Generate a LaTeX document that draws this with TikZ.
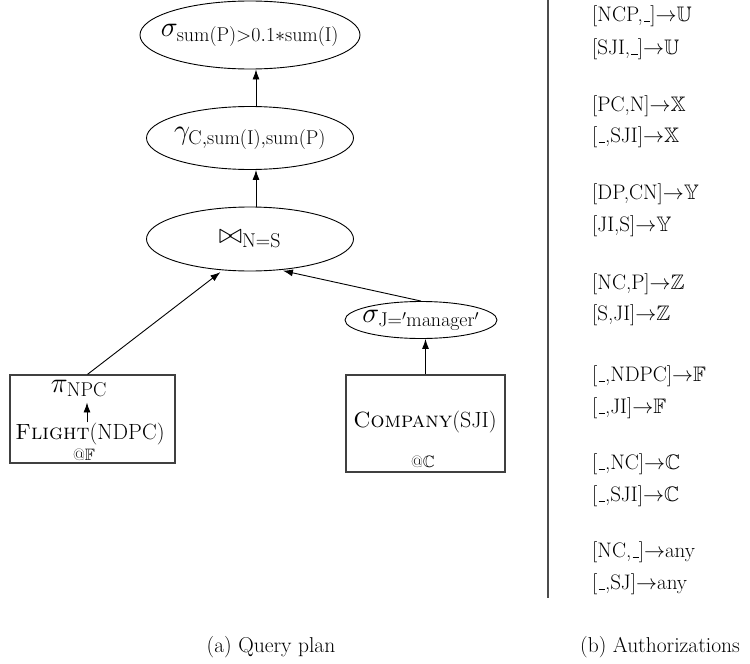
\RequirePackage{fix-cm}
\documentclass[tikz,border=0pt]{standalone}
\usepackage{amssymb}
\usetikzlibrary{shapes.geometric,arrows.meta}
% short underscore sitting on the baseline
\newcommand{\usc}{\leavevmode\kern.06em\vbox{\hrule width.3em}}
% tight arrow between a column pair and its holder
\newcommand{\giv}{$\mathord{\rightarrow}$}

\begin{document}
\begin{tikzpicture}[x=1pt,y=-1pt,
  op/.style={draw, ellipse, inner sep=0pt, line width=0.9pt, font=\fontsize{28.5}{32}\selectfont},
  src/.style={draw=black!75, line width=1.3pt, inner sep=0pt},
  mathlbl/.style={anchor=base, inner sep=0pt, font=\fontsize{28.5}{32}\selectfont},
  lbl/.style={anchor=base, inner sep=0pt, font=\fontsize{22}{26}\selectfont},
  site/.style={anchor=base, inner sep=0pt, font=\fontsize{16.5}{19}\selectfont},
  auth/.style={anchor=base west, inner sep=0pt, font=\fontsize{21}{25}\selectfont},
  captxt/.style={anchor=base, inner sep=0pt, font=\fontsize{21.5}{25}\selectfont},
  arr/.style={-{Latex[length=10pt,width=7pt]}, line width=0.9pt}]
\useasboundingbox (0,0) rectangle (750,664);

% ---- query plan: operators ----
\node[op, minimum width=220pt, minimum height=68pt] (sel) at (250,35)
  {\makebox[0pt]{$\sigma_{\mathrm{sum(P)>0.1*sum(I)}}$}};
\node[op, minimum width=207pt, minimum height=63pt] (agg) at (250,138)
  {\makebox[0pt]{$\gamma_{\mathrm{C,sum(I),sum(P)}}$}};
\node[op, minimum width=207pt, minimum height=64pt] (join) at (250,239)
  {\makebox[0pt]{$\bowtie_{\mathrm{N=S}}$}};
\node[op, minimum width=152pt, minimum height=37pt] (selj) at (421,320)
  {\makebox[0pt]{$\sigma_{\mathrm{J}='\mathrm{manager}'}$}};

% ---- base relations with their sites ----
\node[src, minimum width=165pt, minimum height=88pt] (fbox) at (92.5,419) {};
\node[mathlbl] (pi) at (79,392) {$\pi_{\mathrm{NPC}}$};
\node[lbl] (ftext) at (90,439) {\textsc{Flight}(NDPC)};
\node[site] (fsite) at (84,460.5) {@$\mathbb{F}$};

\node[src, minimum width=159pt, minimum height=97pt] (cbox) at (425.5,423.5) {};
\node[lbl] (ctext) at (425,427) {\textsc{Company}(SJI)};
\node[site] (csite) at (423,467) {@$\mathbb{C}$};

% ---- data flow ----
\draw[arr] ([xshift=-3pt]ftext.north) -- ([xshift=8pt,yshift=-6pt]pi.south);
\draw[arr] (cbox.north) -- (cbox.north |- selj.south);
\draw[arr, shorten >=3pt] ([xshift=-5pt]fbox.north) -- (join.229);
\draw[arr, shorten >=3pt] (selj.north) -- (join.314);
\draw[arr] ([xshift=6pt]join.north) -- ([xshift=6pt]agg.south);
\draw[arr] ([xshift=6pt]agg.north) -- ([xshift=6pt]sel.south);

% ---- separator ----
\draw[black!70, line width=1.2pt] (548,0) -- (548,598);

% ---- authorizations ----
\node[auth] (a1)  at (592,21)  {[NCP,\usc]\giv$\mathbb{U}$};
\node[auth] (a2)  at (592,54)  {[SJI,\usc]\giv$\mathbb{U}$};
\node[auth] (a3)  at (592,111) {[PC,N]\giv$\mathbb{X}$};
\node[auth] (a4)  at (592,142) {[\usc,SJI]\giv$\mathbb{X}$};
\node[auth] (a5)  at (592,199) {[DP,CN]\giv$\mathbb{Y}$};
\node[auth] (a6)  at (592,231) {[JI,S]\giv$\mathbb{Y}$};
\node[auth] (a7)  at (592,289) {[NC,P]\giv$\mathbb{Z}$};
\node[auth] (a8)  at (592,320) {[S,JI]\giv$\mathbb{Z}$};
\node[auth] (a9)  at (592,381) {[\usc,NDPC]\giv$\mathbb{F}$};
\node[auth] (a10) at (592,413) {[\usc,JI]\giv$\mathbb{F}$};
\node[auth] (a11) at (592,469) {[\usc,NC]\giv$\mathbb{C}$};
\node[auth] (a12) at (592,501) {[\usc,SJI]\giv$\mathbb{C}$};
\node[auth] (a13) at (592,557) {[NC,\usc]\giv any};
\node[auth] (a14) at (592,589) {[\usc,SJ]\giv any};

% ---- captions ----
\node[captxt] (capa) at (271,652) {(a) Query plan};
\node[captxt] (capb) at (660,652) {(b) Authorizations};
\end{tikzpicture}
\end{document}
